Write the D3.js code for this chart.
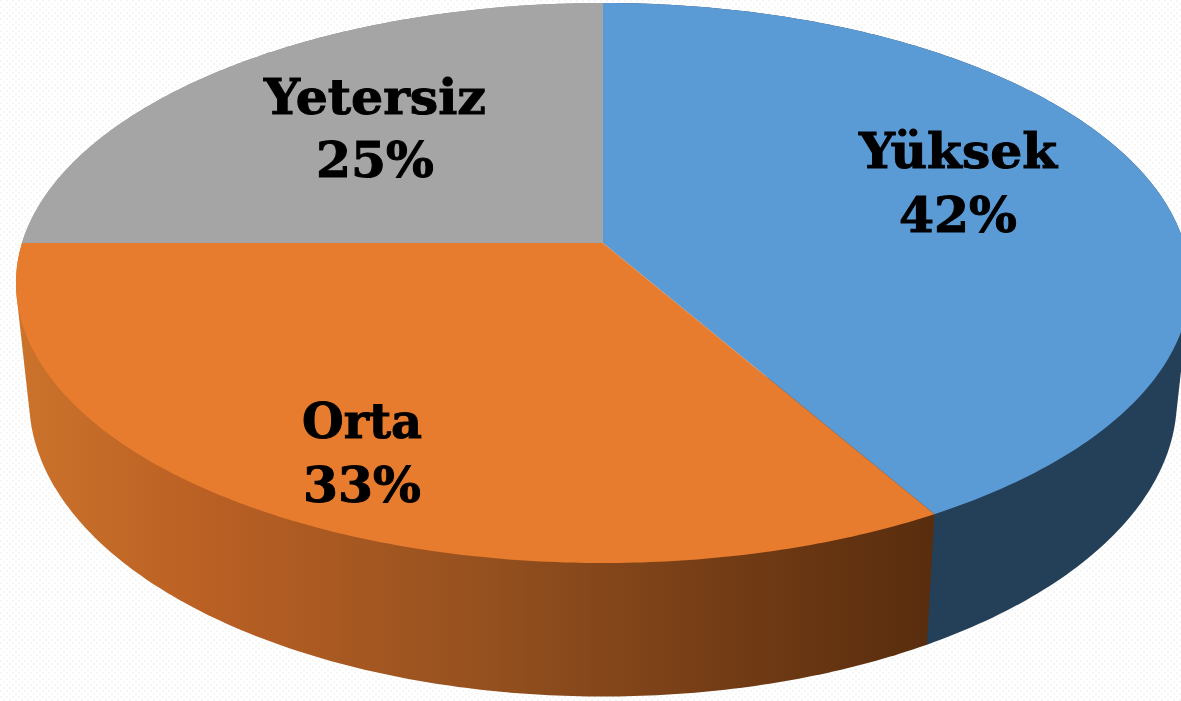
<!DOCTYPE html>
<html><head><meta charset="utf-8">
<script src="https://cdn.jsdelivr.net/npm/d3@7"></script>
<style>html,body{margin:0;padding:0;background:#fff;overflow:hidden}svg{display:block}</style>
</head><body><svg id="c" width="1181" height="701"></svg>
<script>
const categories = ["Yüksek","Orta","Yetersiz"];
const values = [41.67,33.33,25];
const percentLabels = ["42%","33%","25%"];
const topColors = ["#5b9bd5","#e77c2e","#a5a5a5"];

const W=1181,H=701;
const svg=d3.select("#c");
const defs=svg.append("defs");
const pat=defs.append("pattern").attr("id","dots").attr("width",6).attr("height",6).attr("patternUnits","userSpaceOnUse");
pat.append("rect").attr("width",6).attr("height",6).attr("fill","#fff");
pat.append("rect").attr("x",0).attr("y",0).attr("width",2).attr("height",2).attr("fill","#f6f6f6");
pat.append("rect").attr("x",3).attr("y",3).attr("width",2).attr("height",2).attr("fill","#f6f6f6");
svg.append("rect").attr("width",W).attr("height",H).attr("fill","url(#dots)");

const grad=defs.append("linearGradient").attr("id","wallOrange").attr("gradientUnits","userSpaceOnUse")
 .attr("x1",20).attr("x2",934).attr("y1",0).attr("y2",0);
[[0,"#cb732b"],[.2,"#ba6024"],[.5,"#96511f"],[.8,"#703a14"],[1,"#582d0e"]].forEach(s=>grad.append("stop").attr("offset",s[0]).attr("stop-color",s[1]));

const k=-1/7;
const topP={cx:603,cy:243,a:274.3,b:581};
const botP={cx:603,cy:357,a:291,b:568};
const proj=(P,t)=>{const u=Math.sin(t),v=-Math.cos(t),d=1+k*v;return [P.cx+P.b*u/d,P.cy+P.a*v/d];};
const arcs=d3.pie().sort(null).value(d=>d)(values);
const line=d3.line();
const samples=(a,b)=>d3.range(0,181).map(i=>a+(b-a)*i/180);
const wallFill=["#243f58","url(#wallOrange)","#8a8a8a"];

// side wall: convex hull of each slice's top and bottom rims; the top face covers the inner part
svg.append("g").selectAll("path").data([2,0,1]).join("path")
  .attr("d",i=>{
    const ts=samples(arcs[i].startAngle,arcs[i].endAngle);
    return line(d3.polygonHull([...ts.map(t=>proj(topP,t)),...ts.map(t=>proj(botP,t))]))+"Z";
  })
  .attr("fill",i=>wallFill[i]);
// top face
svg.append("g").selectAll("path").data(arcs).join("path")
  .attr("d",s=>line([[topP.cx,topP.cy],...samples(s.startAngle,s.endAngle).map(t=>proj(topP,t))])+"Z")
  .attr("fill",(s,i)=>topColors[i]);

const labelLayout=[{x:958,y1:168,y2:232},{x:362,y1:438,y2:502},{x:375,y1:114,y2:177}];
const lw=[198,120,222], pw=[118,118,118];
const lab=svg.append("g").attr("font-family","'DejaVu Serif'").attr("font-weight",700).attr("font-size",49)
  .attr("fill","#000").attr("stroke","#000").attr("stroke-width",1).attr("text-anchor","middle");
categories.forEach((c,i)=>{
  const L=labelLayout[i];
  lab.append("text").attr("x",L.x).attr("y",L.y1).attr("textLength",lw[i]).attr("lengthAdjust","spacingAndGlyphs").text(c);
  lab.append("text").attr("x",L.x).attr("y",L.y2).attr("textLength",pw[i]).attr("lengthAdjust","spacingAndGlyphs").text(percentLabels[i]);
});
</script></body></html>
